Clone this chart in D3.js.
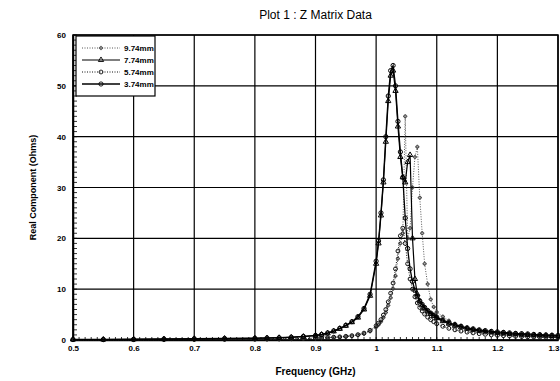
<!DOCTYPE html>
<html>
<head>
<meta charset="utf-8">
<script src="https://cdn.jsdelivr.net/npm/d3@7"></script>
<style>
  html, body { margin: 0; padding: 0; background: #fff; }
  svg { display: block; font-family: "Liberation Sans", Arial, sans-serif; }
</style>
</head>
<body>
<div id="chart"></div>
<script>
// frequency samples (GHz), shared by all series
const freqGHz = [
  0.50, 0.55, 0.60, 0.65, 0.70, 0.75, 0.80, 0.82, 0.84, 0.86, 0.88,
  0.90, 0.91, 0.92, 0.93, 0.94, 0.95, 0.96, 0.97, 0.98, 0.99,
  1.000, 1.004, 1.008, 1.012, 1.016, 1.020, 1.024, 1.028, 1.032, 1.036, 1.040, 1.044,
  1.048, 1.052, 1.056, 1.060, 1.064, 1.068, 1.072, 1.076, 1.080, 1.085, 1.090, 1.095, 1.100,
  1.11, 1.12, 1.13, 1.14, 1.15, 1.16, 1.17, 1.18, 1.19, 1.20,
  1.21, 1.22, 1.23, 1.24, 1.25, 1.26, 1.27, 1.28, 1.29, 1.30
];

const real374 = [
  0.1, 0.1, 0.15, 0.2, 0.25, 0.3, 0.35, 0.4, 0.45, 0.55, 0.7,
  0.9, 1.1, 1.4, 1.8, 2.3, 2.9, 3.6, 4.6, 6.2, 9.0,
  15.5, 19.5, 25, 31.5, 40, 48, 53, 54, 50, 43, 37, 32,
  24, 18, 14, 11.5, 9.8, 8.6, 7.7, 7.0, 6.4, 5.8, 5.3, 4.9, 4.5,
  3.9, 3.4, 3.0, 2.7, 2.4, 2.2, 2.0, 1.85, 1.7, 1.6,
  1.5, 1.4, 1.3, 1.25, 1.2, 1.1, 1.05, 1.0, 0.95, 0.9
];

const real774 = [
  0.1, 0.1, 0.14, 0.18, 0.23, 0.28, 0.33, 0.38, 0.43, 0.52, 0.66,
  0.85, 1.05, 1.3, 1.7, 2.2, 2.8, 3.5, 4.4, 6.0, 8.7,
  15, 19, 24.5, 31, 39, 47, 52, 53, 49, 42, 36, 32,
  31, 35, 36.4, 20, 12, 9, 7.6, 6.8, 6.2, 5.6, 5.1, 4.7, 4.3,
  3.7, 3.2, 2.8, 2.5, 2.2, 2.0, 1.8, 1.65, 1.5, 1.4,
  1.3, 1.2, 1.12, 1.05, 1.0, 0.95, 0.9, 0.85, 0.8, 0.78
];

const real574 = [
  0.05, 0.06, 0.07, 0.08, 0.1, 0.12, 0.15, 0.18, 0.2, 0.25, 0.3,
  0.38, 0.42, 0.48, 0.55, 0.62, 0.72, 0.85, 1.05, 1.35, 1.9,
  2.8, 3.3, 4.0, 4.9, 6.0, 7.5, 9.2, 11.2, 14, 17.5, 20.5, 22,
  19, 15, 12, 10, 8.5, 7.3, 6.4, 5.7, 5.1, 4.5, 4.0, 3.6, 3.2,
  2.7, 2.3, 2.0, 1.75, 1.55, 1.4, 1.25, 1.12, 1.0, 0.92,
  0.85, 0.78, 0.72, 0.67, 0.62, 0.58, 0.55, 0.52, 0.49, 0.46
];

const real974 = [
  0.05, 0.05, 0.06, 0.07, 0.09, 0.11, 0.13, 0.16, 0.18, 0.22, 0.27,
  0.34, 0.38, 0.43, 0.5, 0.56, 0.65, 0.77, 0.95, 1.2, 1.7,
  2.5, 3.0, 3.6, 4.4, 5.4, 6.8, 8.3, 10.1, 12.6, 16, 19, 21,
  44, 20, 22, 30, 36, 38, 28, 21, 15, 11, 8, 6.5, 5.5,
  4.6, 3.8, 3.2, 2.8, 2.4, 2.1, 1.9, 1.7, 1.55, 1.42,
  1.3, 1.2, 1.12, 1.05, 1.0, 0.95, 0.9, 0.85, 0.82, 0.8
];

const seriesNames = ['9.74mm', '7.74mm', '5.74mm', '3.74mm'];
const xTickValues = [0.5, 0.6, 0.7, 0.8, 0.9, 1.0, 1.1, 1.2, 1.3];
const xTickLabels = ['0.5', '0.6', '0.7', '0.8', '0.9', '1', '1.1', '1.2', '1.3'];
const yTickValues = [0, 10, 20, 30, 40, 50, 60];

const width = 560, height = 381;
const margin = { top: 35, right: 2, bottom: 41, left: 73 };

const svg = d3.select('#chart').append('svg')
  .attr('width', width)
  .attr('height', height);

const x = d3.scaleLinear().domain([0.5, 1.3]).range([margin.left, width - margin.right]);
const y = d3.scaleLinear().domain([0, 60]).range([height - margin.bottom, margin.top]);

// grid
svg.append('g')
  .selectAll('line')
  .data(xTickValues)
  .join('line')
  .attr('x1', d => x(d)).attr('x2', d => x(d))
  .attr('y1', y(0)).attr('y2', y(60))
  .attr('stroke', '#000').attr('stroke-width', 1.2);

svg.append('g')
  .selectAll('line')
  .data(yTickValues)
  .join('line')
  .attr('x1', x(0.5)).attr('x2', x(1.3))
  .attr('y1', d => y(d)).attr('y2', d => y(d))
  .attr('stroke', '#000').attr('stroke-width', 1.2);

// minor ticks, pointing inward
svg.append('g')
  .selectAll('line')
  .data(d3.range(0, 61, 1))
  .join('line')
  .attr('x1', x(0.5)).attr('x2', x(0.5) + 4)
  .attr('y1', d => y(d)).attr('y2', d => y(d))
  .attr('stroke', '#000').attr('stroke-width', 0.8);

svg.append('g')
  .selectAll('line')
  .data(d3.range(50, 131, 1).map(d => d / 100))
  .join('line')
  .attr('x1', d => x(d)).attr('x2', d => x(d))
  .attr('y1', y(0)).attr('y2', y(0) - 3)
  .attr('stroke', '#000').attr('stroke-width', 0.8);

// axes (labels only)
const xAxis = svg.append('g')
  .attr('transform', `translate(0,${y(0)})`)
  .call(d3.axisBottom(x).tickValues(xTickValues).tickSize(0).tickPadding(5)
    .tickFormat((d, i) => xTickLabels[i]));
xAxis.select('.domain').attr('stroke-width', 1.5);
xAxis.selectAll('text').attr('font-size', 8).attr('font-weight', 'bold').attr('fill', '#000');
// last label sits against the right edge
xAxis.selectAll('.tick').filter(d => d === 1.3).select('text').attr('text-anchor', 'end').attr('dx', 1);

const yAxis = svg.append('g')
  .attr('transform', `translate(${x(0.5)},0)`)
  .call(d3.axisLeft(y).tickValues(yTickValues).tickSize(0).tickPadding(7));
yAxis.select('.domain').attr('stroke-width', 1.5);
yAxis.selectAll('text').attr('font-size', 8).attr('font-weight', 'bold').attr('fill', '#000');

// top / right frame
svg.append('rect')
  .attr('x', x(0.5)).attr('y', y(60))
  .attr('width', x(1.3) - x(0.5)).attr('height', y(0) - y(60))
  .attr('fill', 'none').attr('stroke', '#000').attr('stroke-width', 1.5);

// series
const series = [
  { name: seriesNames[0], values: real974, dash: '1,1.5', color: '#444', width: 0.9, symbol: d3.symbolCross, size: 6 },
  { name: seriesNames[1], values: real774, dash: null, color: '#000', width: 1.2, symbol: d3.symbolTriangle, size: 12 },
  { name: seriesNames[2], values: real574, dash: '1,1.5', color: '#111', width: 1, symbol: d3.symbolCircle, size: 12 },
  { name: seriesNames[3], values: real374, dash: null, color: '#000', width: 1.3, symbol: d3.symbolCircle, size: 14 }
];

const line = d3.line()
  .x((d, i) => x(freqGHz[i]))
  .y(d => y(d));

const plot = svg.append('g');
series.forEach(s => {
  plot.append('path')
    .datum(s.values)
    .attr('fill', 'none')
    .attr('stroke', s.color)
    .attr('stroke-width', s.width)
    .attr('stroke-dasharray', s.dash)
    .attr('d', line);

  plot.append('g')
    .selectAll('path')
    .data(s.values)
    .join('path')
    .attr('transform', (d, i) => `translate(${x(freqGHz[i])},${y(d)})`)
    .attr('d', d3.symbol(s.symbol, s.size))
    .attr('fill', 'none')
    .attr('stroke', s.color)
    .attr('stroke-width', 1);
});

// legend
const lg = svg.append('g');
lg.append('rect')
  .attr('x', x(0.5) + 3).attr('y', y(60) + 1)
  .attr('width', 79).attr('height', 60)
  .attr('fill', '#fff').attr('stroke', '#000').attr('stroke-width', 1.2);

series.forEach((s, i) => {
  const ly = y(60) + 13 + i * 12;
  const lx0 = x(0.5) + 9, lx1 = x(0.5) + 47;
  lg.append('line')
    .attr('x1', lx0).attr('x2', lx1)
    .attr('y1', ly).attr('y2', ly)
    .attr('stroke', s.color).attr('stroke-width', s.width)
    .attr('stroke-dasharray', s.dash);
  lg.append('path')
    .attr('transform', `translate(${(lx0 + lx1) / 2},${ly})`)
    .attr('d', d3.symbol(s.symbol, s.size)())
    .attr('fill', 'none').attr('stroke', s.color).attr('stroke-width', 0.9);
  lg.append('text')
    .attr('x', lx1 + 4).attr('y', ly + 3)
    .attr('font-size', 8).attr('font-weight', 'bold')
    .text(s.name);
});

// titles
svg.append('text')
  .attr('x', (x(0.5) + x(1.3)) / 2).attr('y', 19)
  .attr('text-anchor', 'middle')
  .attr('font-size', 12)
  .text('Plot 1 : Z Matrix Data');

svg.append('text')
  .attr('x', (x(0.5) + x(1.3)) / 2).attr('y', 375)
  .attr('text-anchor', 'middle')
  .attr('font-size', 10).attr('font-weight', 'bold')
  .text('Frequency (GHz)');

svg.append('text')
  .attr('transform', `translate(36,${(y(0) + y(60)) / 2}) rotate(-90)`)
  .attr('text-anchor', 'middle')
  .attr('font-size', 9).attr('font-weight', 'bold')
  .text('Real Component (Ohms)');
</script>
</body>
</html>
